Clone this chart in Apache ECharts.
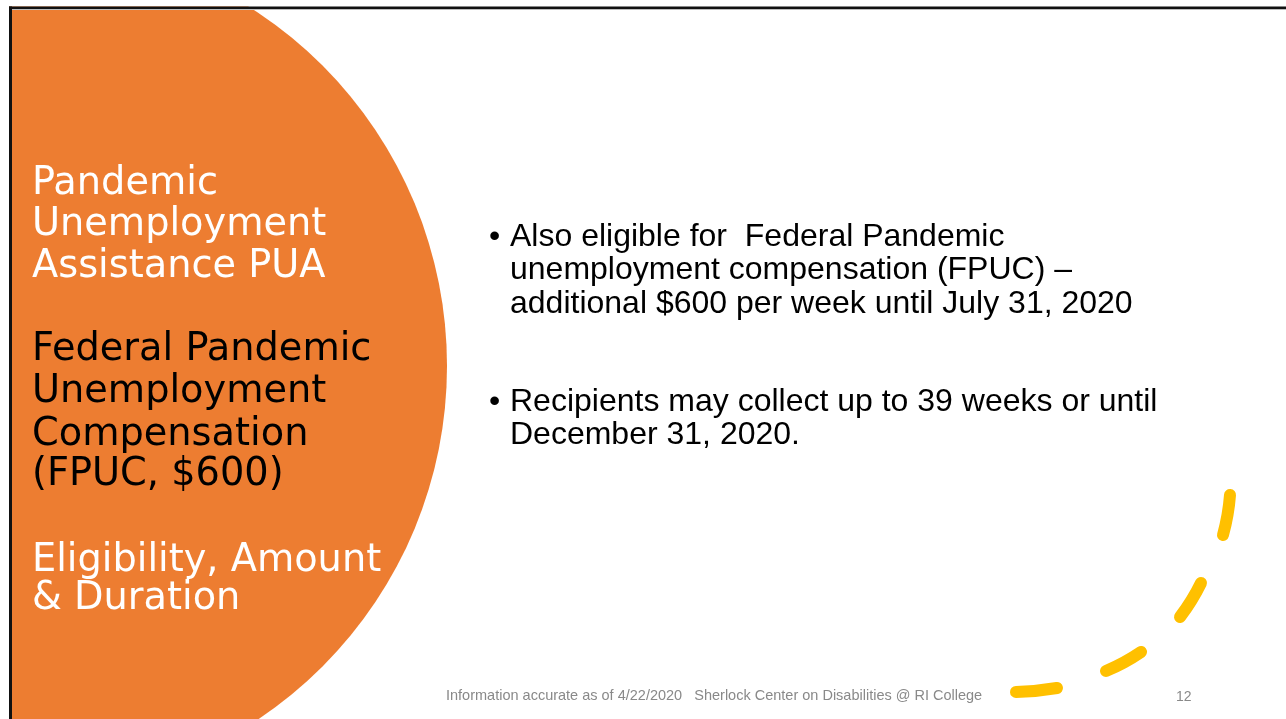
<!DOCTYPE html>
<html>
<head>
<meta charset="utf-8">
<script src="https://cdn.jsdelivr.net/npm/echarts@6/dist/echarts.min.js"></script>
<style>
html,body{margin:0;padding:0;background:#fff;}
#main{width:1286px;height:719px;}
</style>
</head>
<body>
<div id="main"></div>
<script>
// ---- slide content ----
const titleWhiteTop = ['Pandemic', 'Unemployment', 'Assistance PUA'];
const titleWhiteTopBaselines = [197.5, 239, 281];
const titleBlack = ['Federal Pandemic', 'Unemployment', 'Compensation', '(FPUC, $600)'];
const titleBlackBaselines = [363.5, 406, 448.5, 489];
const titleWhiteBottom = ['Eligibility, Amount', '& Duration'];
const titleWhiteBottomBaselines = [574.5, 613];
const bullet1Lines = ['Also eligible for  Federal Pandemic', 'unemployment compensation (FPUC) \u2013', 'additional $600 per week until July 31, 2020'];
const bullet1Baselines = [248.5, 282, 315.5];
const bullet2Lines = ['Recipients may collect up to 39 weeks or until', 'December 31, 2020.'];
const bullet2Baselines = [414, 447];
const footerText = 'Information accurate as of 4/22/2020   Sherlock Center on Disabilities @ RI College';
const slideNumber = '12';

const ORANGE = '#ED7D31';
const YELLOW = '#FFC000';
const GRAY = '#898989';

const TITLE_FS = 38.3;
const TITLE_FONT = TITLE_FS + 'px "DejaVu Sans"';
const BODY_FS = 32;
const BODY_FONT = BODY_FS + 'px "Liberation Sans", Arial';

function textEl(str, x, baseline, fs, font, color, align) {
  return {
    type: 'text',
    x: x,
    y: baseline - fs * 0.36,
    silent: true,
    style: {
      text: str,
      font: font,
      fill: color,
      textAlign: align || 'left',
      textVerticalAlign: 'middle'
    }
  };
}

const elements = [];
// orange circle
elements.push({ type: 'circle', shape: { cx: 22, cy: 366, r: 425 }, style: { fill: ORANGE }, silent: true });
// white mask above top border / left of left border
elements.push({ type: 'rect', shape: { x: 0, y: 0, width: 1286, height: 6.5 }, style: { fill: '#fff' }, silent: true });
elements.push({ type: 'rect', shape: { x: 0, y: 0, width: 9, height: 719 }, style: { fill: '#fff' }, silent: true });
// border lines
elements.push({ type: 'rect', shape: { x: 9, y: 6.5, width: 1277, height: 2.5 }, style: { fill: '#111' }, silent: true });
elements.push({ type: 'rect', shape: { x: 9, y: 9, width: 1277, height: 1 }, style: { fill: '#bbb' }, silent: true });
elements.push({ type: 'rect', shape: { x: 9, y: 6.5, width: 3, height: 712.5 }, style: { fill: '#111' }, silent: true });

titleWhiteTop.forEach((t, i) => elements.push(textEl(t, 32, titleWhiteTopBaselines[i], TITLE_FS, TITLE_FONT, '#FFFFFF')));
titleBlack.forEach((t, i) => elements.push(textEl(t, 32, titleBlackBaselines[i], TITLE_FS, TITLE_FONT, '#000000')));
titleWhiteBottom.forEach((t, i) => elements.push(textEl(t, 32, titleWhiteBottomBaselines[i], TITLE_FS, TITLE_FONT, '#FFFFFF')));

// bullets
[[bullet1Lines, bullet1Baselines], [bullet2Lines, bullet2Baselines]].forEach(([lines, bls]) => {
  elements.push(textEl('\u2022', 489, bls[0], BODY_FS, BODY_FONT, '#000'));
  lines.forEach((t, i) => elements.push(textEl(t, 510, bls[i], BODY_FS, BODY_FONT, '#000')));
});

// footer
elements.push(textEl(footerText, 446, 701, 14.5, '14.5px "Liberation Sans Narrow", "Liberation Sans", Arial', GRAY));
elements.push(textEl(slideNumber, 1176, 702, 14, '14px "Liberation Sans", Arial', GRAY));

// yellow dashed arc
const dashes = [
  [1230, 495, 1228.5, 515, 1223, 535],
  [1201, 583, 1192.2, 601, 1180, 617],
  [1141, 652, 1124.5, 663.3, 1106, 671],
  [1057, 688, 1036.6, 691.5, 1016, 692]
];
dashes.forEach(d => elements.push({
  type: 'bezierCurve', silent: true,
  shape: { x1: d[0], y1: d[1], cpx1: d[2], cpy1: d[3], x2: d[4], y2: d[5] },
  style: { stroke: YELLOW, lineWidth: 12, lineCap: 'round', fill: null }
}));

const chart = echarts.init(document.getElementById('main'), null, { renderer: 'canvas' });
chart.setOption({
  backgroundColor: '#ffffff',
  animation: false,
  graphic: { elements: elements }
});
</script>
</body>
</html>
